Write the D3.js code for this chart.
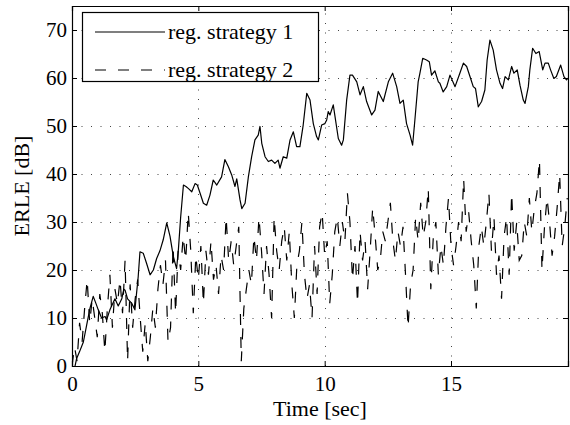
<!DOCTYPE html>
<html><head><meta charset="utf-8">
<script src="https://cdn.jsdelivr.net/npm/d3@7"></script>
<style>body{margin:0;background:#fff}svg{display:block}text{font-family:"Liberation Serif","Times New Roman",serif;fill:#000}</style>
</head><body>
<svg id="c" width="570" height="425"></svg>
<script>
const seriesNames = ["reg. strategy 1", "reg. strategy 2"];
const xTicks = [0, 5, 10, 15];
const yTicks = [0, 10, 20, 30, 40, 50, 60, 70];
const xTitle = "Time [sec]";
const yTitle = "ERLE [dB]";

// strategy 1 (solid): time [s] and ERLE [dB]
const s1Time = [0.12,0.18,0.3,0.45,0.58,0.71,0.84,0.95,1.04,1.17,1.31,1.37,1.5,1.7,1.83,1.97,2.05,2.1,2.2,2.36,2.49,2.62,2.69,2.82,2.95,3.09,3.22,3.35,3.48,3.61,3.75,3.88,4.01,4.14,4.21,4.3,4.41,4.51,4.6,4.74,4.87,4.96,5.07,5.2,5.33,5.46,5.59,5.73,5.92,6.05,6.19,6.32,6.45,6.52,6.65,6.72,6.85,6.98,7.11,7.24,7.37,7.44,7.51,7.64,7.77,7.9,8.03,8.16,8.23,8.36,8.5,8.63,8.76,8.89,9.02,9.15,9.29,9.42,9.55,9.68,9.75,9.88,10.01,10.08,10.14,10.21,10.34,10.54,10.67,10.74,10.87,11.0,11.1,11.27,11.4,11.53,11.66,11.86,11.99,12.12,12.32,12.52,12.69,12.85,12.98,13.11,13.24,13.38,13.48,13.57,13.7,13.77,13.88,14.03,14.14,14.23,14.36,14.5,14.56,14.69,14.83,14.96,15.16,15.35,15.49,15.62,15.75,15.88,15.97,16.08,16.21,16.34,16.43,16.54,16.67,16.8,16.94,17.04,17.14,17.27,17.4,17.49,17.62,17.73,17.86,17.93,18.06,18.12,18.23,18.36,18.49,18.63,18.72,18.85,18.94,19.07,19.17,19.34,19.47,19.57,19.63];
const s1Erle = [0,1.5,3,5,8.5,12,14.5,13,11.7,10,10.3,9.6,11.7,14,12.5,14,16,15.8,14,13.1,11.7,18.6,23.8,23.5,21.4,19,20,22.4,24,26.3,29.8,27,22.8,20.3,24.2,31,37.7,37.4,37,36.3,38,37.7,36,33.9,33.5,35.6,38.75,37.7,39.4,43,41.5,39.8,37.4,39,34.6,32.8,33.9,39.4,43.6,47.1,48.1,49.9,46.4,43.6,42.6,42.9,42.2,42.9,41.2,43.6,43.3,47.1,48.8,45.7,45.7,50.2,56.8,55.4,50.5,47.8,47.1,50.2,50.5,51.25,53,52.3,54.4,47.4,46,47.1,55.4,60.6,60.6,59.2,56.5,58.2,55.1,52.3,53.3,57.2,55.1,59.2,61,58.2,54.7,55.4,50.5,48.1,46,51.25,59.2,61,64.1,63.75,63.4,60.6,61.5,59.2,58.9,57.1,58.2,60.6,58.2,61,63.1,62.4,60.3,58.2,57.8,54,55.1,57.5,63.75,67.9,65.8,61.7,58.9,57.8,60.3,59.6,62.4,61,61.7,58.5,55.4,54.7,58.2,61.7,66.2,65.1,65.5,61.7,63.1,63.1,61.7,59.9,60.3,62.7,60.3,59.6,60];

// strategy 2 (dashed): sampled every 0.1 s starting at 0 s
const s2Start = 0, s2Step = 0.1;
const s2Erle = [0,4,1,9,5,12,18,9,14,10,
6,15,11,3,12,19,8,16,13,18,
11,22,1,17,8,14,18,10,3,9,
1,6,12,8,16,21,17,22,5,8,
25,11,24,20,27,22,32,24,11,23,
18,25,13,24,19,26,18,21,15,23,
20,31,22,26,21,25,29,1,12,16,
20,17,27,22,31,24,15,25,19,10,
31,24,20,26,29,22,28,17,10,21,
24,30,19,14,17,10,25,15,29,32,
23,26,13,19,28,31,25,30,26,36,
30,18,25,13,28,22,26,16,24,33,
27,20,22,28,26,30,34,26,22,28,
25,29,19,8,17,20,31,26,34,27,
30,37,16,27,30,19,25,21,29,35,
25,21,25,30,26,39,28,32,26,21,
12,25,29,25,30,36,24,31,19,23,
14,27,31,19,36,24,30,22,23,30,
27,35,28,33,36,43,20,29,35,30,
23,27,33,40,25,29,35];

const W = 570, H = 425;
const m = {left: 72, right: 2, top: 6, bottom: 59};
const svg = d3.select("#c");
const x = d3.scaleLinear().domain([0, 19.63]).range([m.left, W - m.right]);
const y = d3.scaleLinear().domain([0, 75]).range([H - m.bottom, m.top]);
const x0 = x.range()[0], x1 = x.range()[1], y0 = y.range()[0], y1 = y.range()[1];

// grid
const grid = svg.append("g").attr("stroke", "#444").attr("stroke-width", 1).attr("stroke-dasharray", "1,8.5");
grid.selectAll("line.gx").data(xTicks.filter(d => d > 0)).join("line")
  .attr("x1", d => Math.round(x(d)) + 0.5).attr("x2", d => Math.round(x(d)) + 0.5)
  .attr("y1", y0).attr("y2", y1);
grid.selectAll("line.gy").data(yTicks.filter(d => d > 0)).join("line")
  .attr("y1", d => Math.round(y(d)) + 0.5).attr("y2", d => Math.round(y(d)) + 0.5)
  .attr("x1", x0).attr("x2", x1);

// data
const clip = svg.append("clipPath").attr("id", "pc").append("rect")
  .attr("x", x0).attr("y", y1).attr("width", x1 - x0).attr("height", y0 - y1);
const s1 = s1Time.map((t, i) => [t, s1Erle[i]]);
const s2 = s2Erle.map((v, i) => [s2Start + i * s2Step, v]);
const line = d3.line().x(d => x(d[0])).y(d => y(d[1]));
const plot = svg.append("g").attr("clip-path", "url(#pc)");
plot.append("path").datum(s2).attr("d", line).attr("fill", "none").attr("stroke", "#000")
  .attr("stroke-width", 1.2).attr("stroke-dasharray", "11,12");
plot.append("path").datum(s1).attr("d", line).attr("fill", "none").attr("stroke", "#000")
  .attr("stroke-width", 1.2).attr("stroke-linejoin", "round");

// axes (ticks inward, mirrored)
const fs = 21;
const axB = d3.axisBottom(x).tickValues(xTicks).tickSize(-5).tickPadding(10).tickFormat(d3.format("d"));
const axT = d3.axisTop(x).tickValues(xTicks).tickSize(-5).tickFormat("");
const axL = d3.axisLeft(y).tickValues(yTicks).tickSize(-5).tickPadding(5).tickFormat(d3.format("d"));
const axR = d3.axisRight(y).tickValues(yTicks).tickSize(-5).tickFormat("");
function style(g) {
  g.select(".domain").attr("stroke", "#000");
  g.selectAll(".tick line").attr("stroke", "#000");
  g.selectAll("text").style("font-size", fs + "px").style("font-family", "Liberation Serif, serif").attr("fill", "#000");
}
svg.append("g").attr("transform", `translate(0,${y0})`).call(axB).call(style);
svg.append("g").attr("transform", `translate(0,${y1})`).call(axT).call(style);
svg.append("g").attr("transform", `translate(${x0},0)`).call(axL).call(style);
svg.append("g").attr("transform", `translate(${x1},0)`).call(axR).call(style);
svg.selectAll(".domain").attr("stroke-width", 1.2);

// titles
svg.append("text").attr("x", (x0 + x1) / 2).attr("y", 416).attr("text-anchor", "middle")
  .style("font-size", "22px").text(xTitle);
svg.append("text").attr("transform", `translate(29,${(y0 + y1) / 2}) rotate(-90)`).attr("text-anchor", "middle")
  .style("font-size", "22px").text(yTitle);

// legend
const lg = svg.append("g");
lg.append("rect").attr("x", 82.5).attr("y", 12.5).attr("width", 236).attr("height", 69)
  .attr("fill", "#fff").attr("stroke", "#000").attr("stroke-width", 1.2);
const dashes = [null, "11,12"];
seriesNames.forEach((name, i) => {
  const ly = 32 + i * 38;
  lg.append("line").attr("x1", 95).attr("x2", 165).attr("y1", ly).attr("y2", ly)
    .attr("stroke", "#000").attr("stroke-width", 1.2).attr("stroke-dasharray", dashes[i]);
  lg.append("text").attr("x", 168).attr("y", ly + 7).style("font-size", "22px").text(name);
});
</script>
</body></html>
